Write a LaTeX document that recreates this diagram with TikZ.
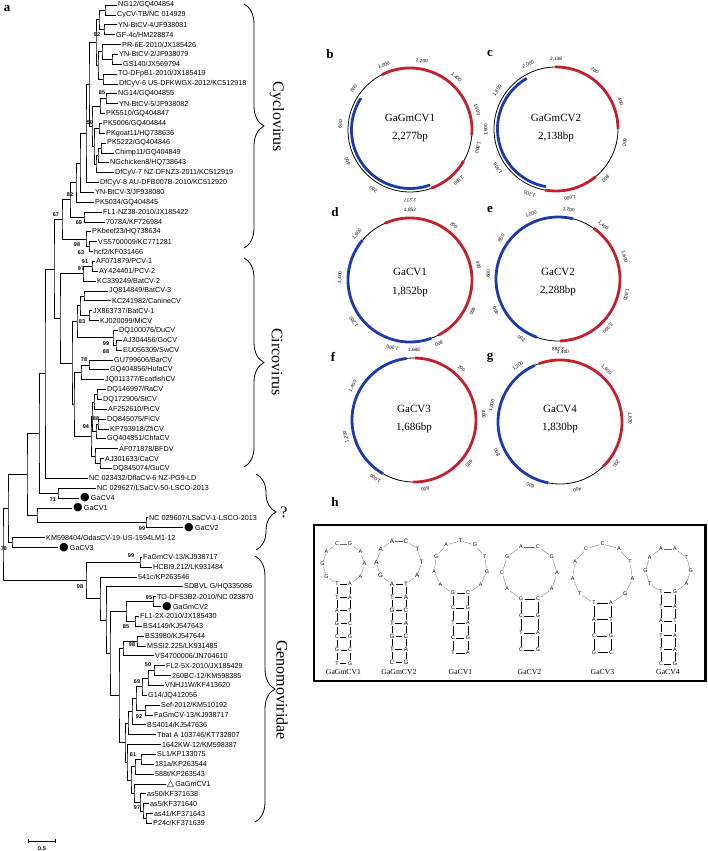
\documentclass[tikz,border=0pt]{standalone}
\usepackage{fontspec}
\setmainfont{Liberation Serif}
\setsansfont{Liberation Sans}
\newfontfamily\dejavu{DejaVu Sans}
\usetikzlibrary{calc, arrows.meta, decorations.pathreplacing}

\definecolor{repred}{RGB}{196,32,44}
\definecolor{capblue}{RGB}{28,58,172}
\pgfkeys{/pgf/number format/.cd, int detect, 1000 sep={,}, assume math mode=true}

\newcommand\markdot{{\dejavu\fontsize{11}{11}\selectfont ●}\,}
\newcommand\marktri{{\dejavu\fontsize{9}{9}\selectfont △}\,}

% tree: clade #1 at x=#2 joining #3 and #4
\newcommand\clade[4]{%
  \coordinate (mid) at ($(#3)!0.5!(#4)$);
  \coordinate (#1) at (#2,0 |- mid);
  \draw[branch] (#3) -| (#1) |- (#4);
}

% genome map: centre #1, length #2, angle of position 0
\newcommand\genome[3]{%
  \draw[backbone] (#1) circle[radius=62];
  \foreach \p in {200,400,...,#2} {
    \pgfmathtruncatemacro\keep{#2-\p>=100}
    \ifnum\keep=1
      \pgfmathsetmacro\ta{#3+\p/#2*360}
      \node[bpmark, rotate=270-\ta] (#1-\p) at ($(#1)+(\ta:70)$) {\pgfmathprintnumber{\p}};
    \fi
  }
  \node[bpmark, rotate=270-#3] (#1-end) at ($(#1)+(#3:70)$) {\pgfmathprintnumber{#2}};
}
\newcommand\garc[5]{%
  \draw[#1] ($(#2)+(#3:#5)$) arc[start angle=#3, end angle=#4, radius=#5];
}

% stem-loop: prefix, x, top row y, pair gap, row step, pairs, loop size, loop, name
\newcommand\stemloop[9]{%
  \pgfmathsetmacro\ringm{#7+2}
  \pgfmathsetmacro\ringr{#4/(2*sin(180/\ringm))}
  \coordinate (#1c) at (#2,{#3-\ringr*cos(180/\ringm)});
  \foreach \lb/\rb [count=\ii] in {#6} {
    \node[nt] (#1l\ii) at ({#2-#4/2},{#3+(\ii-1)*#5}) {\lb};
    \node[nt] (#1r\ii) at ({#2+#4/2},{#3+(\ii-1)*#5}) {\rb};
    \draw[pairline] (#1l\ii) -- (#1r\ii);
    \ifnum\ii>1
      \pgfmathtruncatemacro\jj{\ii-1}
      \draw[stemline] (#1l\jj) -- (#1l\ii) (#1r\jj) -- (#1r\ii);
    \fi
  }
  \foreach \nb [count=\qq] in {#8} {
    \node[nt] (#1o\qq) at ($(#1c)+({90+(2*\qq+1)*180/\ringm}:\ringr)$) {\nb};
  }
  \draw[ringline] (#1l1) -- (#1o1);
  \pgfmathtruncatemacro\lastq{#7-1}
  \foreach \qq [evaluate=\qq as \pp using int(\qq+1)] in {1,...,\lastq} {
    \draw[ringline] (#1o\qq) -- (#1o\pp);
  }
  \draw[ringline] (#1o#7) -- (#1r1);
  \node[slname] (#1name) at (#2,672) {#9};
}

\begin{document}
\begin{tikzpicture}[
    x=1pt, y=-1pt,
    branch/.style={line width=0.7pt},
    leaf/.style={anchor=west, inner sep=1pt, font=\fontsize{7.2}{8}\selectfont\sffamily},
    boot/.style={inner sep=0pt, font=\fontsize{5.5}{6}\selectfont\sffamily\bfseries},
    panel/.style={font=\fontsize{13}{14}\selectfont\bfseries},
    famname/.style={font=\fontsize{16}{18}\selectfont},
    clbrace/.style={decorate, decoration={brace, amplitude=20pt}, line width=0.8pt},
    backbone/.style={line width=0.8pt},
    repcol/.style={repred, line width=2.8pt},
    capcol/.style={capblue, line width=2.8pt},
    bpmark/.style={inner sep=0pt, font=\fontsize{4.8}{5}\selectfont\sffamily},
    gname/.style={font=\fontsize{11}{12}\selectfont},
    nt/.style={inner sep=0.8pt, font=\fontsize{5.4}{6}\selectfont\sffamily},
    pairline/.style={line width=0.3pt, shorten <=0.5pt, shorten >=0.5pt},
    stemline/.style={line width=0.3pt},
    ringline/.style={line width=0.3pt, black!60},
    slname/.style={font=\fontsize{7.7}{8}\selectfont}
  ]
  \useasboundingbox (0,0) rectangle (708,851);

  % panel a: tree
  \node[panel] (pa) at (7,9) {a};
  \foreach \tx/\lab [count=\ii] in {
    117/{NG12/GQ404854}, 116/{CyCV-TB/NC 014929}, 117/{YN-BtCV-4/JF938081},
    115/{GF-4c/HM228874}, 121/{PR-6E-2010/JX185426}, 118/{YN-BtCV-2/JF938079},
    122/{GS140/JX569794}, 117/{TO-DFpB1-2010/JX185419}, 118/{DfCyV-6 US-DFKWGX-2012/KC512918},
    117/{NG14/GQ404855}, 118/{YN-BtCV-5/JF938082}, 105/{PK5510/GQ404847},
    102/{PK5006/GQ404844}, 105/{PKgoat11/HQ738636}, 106/{PK5222/GQ404846},
    114/{Chimp11/GQ404849}, 109/{NGchicken8/HQ738643}, 114/{DfCyV-7 NZ-DFNZ3-2011/KC512919},
    99/{DfCyV-8 AU-DFB007B-2010/KC512920}, 94/{YN-BtCV-3/JF938080}, 94/{PK5034/GQ404845},
    102/{FL1-NZ38-2010/JX185422}, 105/{7078A/KF726984}, 91/{PKbeef23/HQ738634},
    97/{VS5700009/KC771281}, 93/{hcf2/KF031466}, 95/{AF071879/PCV-1},
    98/{AY424401/PCV-2}, 96/{KC339249/BatCV-2}, 108/{JQ814849/BatCV-3},
    111/{KC241982/CanineCV}, 92/{JX863737/BatCV-1}, 99/{KJ020099/MiCV},
    118/{DQ100076/DuCV}, 122/{AJ304456/GoCV}, 122/{EU056309/SwCV},
    113/{GU799606/BarCV}, 109/{GQ404856/HufaCV}, 104/{JQ011377/EcatfishCV},
    106/{DQ146997/RaCV}, 102/{DQ172906/StCV}, 107/{AF252610/PiCV},
    106/{DQ845075/FiCV}, 109/{KP793918/ZfiCV}, 106/{GQ404851/ChfaCV},
    118/{AF071878/BFDV}, 104/{AJ301633/CaCV}, 112/{DQ845074/GuCV},
    88/{NC 023432/DflaCV-6 NZ-PG9-LD}, 96/{NC 029627/LSaCV-50-LSCO-2013}, 79/{\markdot GaCV4},
    72/{\markdot GaCV1}, 148/{NC 029607/LSaCV-1-LSCO-2013}, 183/{\markdot GaCV2},
    45/{KM598404/OdasCV-19-US-1594LM1-12}, 58/{\markdot GaCV3}, 142/{FaGmCV-13/KJ938717},
    152/{HCBI9.212/LK931484}, 137/{541c/KP263546}, 183/{SDBVL G/HQ335086},
    156/{TO-DFS3B2-2010/NC 023870}, 161/{\markdot GaGmCV2}, 139/{FL1-2X-2010/JX185430},
    142/{BS4149/KJ547643}, 144/{BS3980/KJ547644}, 146/{MSSI2.225/LK931485},
    154/{VS4700006/JN704610}, 165/{FL2-5X-2010/JX185429}, 171/{260BC-12/KM598385},
    164/{VNHJ1W/KF413620}, 147/{G14/JQ412056}, 160/{Sef-2012/KM510192},
    153/{FaGmCV-13/KJ938717}, 146/{BS4014/KJ547636}, 156/{Tbat A 103746/KT732807},
    161/{1642KW-12/KM598387}, 156/{SL1/KP133075}, 154/{181a/KP263544},
    154/{588t/KP263543}, 166/{\marktri GaGmCV1}, 146/{as50/KF371638},
    149/{as5/KF371640}, 153/{as41/KF371643}, 152/{P24c/KF371639}}
    \node[leaf] (l\ii) at (\tx,{5+(\ii-1)*9.86}) {\lab};

  % Cyclovirus
  \clade{A1}{105}{l1}{l2}
  \clade{A2}{104}{l3}{l4}
  \clade{A3}{99}{A1}{A2}
  \clade{B1}{112}{l6}{l7}
  \clade{B2}{102}{l5}{B1}
  \clade{B3}{103}{l8}{l9}
  \clade{B4}{98}{B2}{B3}
  \clade{C1}{96}{A3}{B4}
  \clade{D1}{106}{l10}{l11}
  \clade{D2}{100}{D1}{l12}
  \clade{E1}{99}{l13}{l14}
  \clade{E2}{101}{l15}{l16}
  \clade{E3}{98}{E2}{l17}
  \clade{E4}{96}{E3}{l18}
  \clade{E5}{94}{E1}{E4}
  \clade{F1}{92}{D2}{E5}
  \clade{G1}{89}{C1}{F1}
  \clade{G2}{86}{G1}{l19}
  \clade{G3}{80}{G2}{l20}
  \clade{G4}{76}{G3}{l21}
  \clade{H1}{84}{l22}{l23}
  \clade{H2}{70}{G4}{H1}
  \clade{I1}{89}{l25}{l26}
  \clade{I2}{86}{l24}{I1}
  \clade{H3}{62}{H2}{I2}
  % Circovirus
  \clade{J1}{92}{l27}{l28}
  \clade{J2}{83}{J1}{l29}
  \clade{K1}{84}{l30}{l31}
  \clade{K2}{89}{l32}{l33}
  \clade{K3}{80}{K1}{K2}
  \clade{L1}{116}{l35}{l36}
  \clade{L2}{113}{l34}{L1}
  \clade{K4}{77}{K3}{L2}
  \clade{M1}{89}{l37}{l38}
  \clade{M2}{81}{M1}{l39}
  \clade{N1}{97}{l40}{l41}
  \clade{N2}{94}{N1}{l42}
  \clade{N3}{98}{l43}{l44}
  \clade{N4}{96}{N3}{l45}
  \clade{N5}{92}{N2}{N4}
  \clade{N6}{100}{l47}{l48}
  \clade{N7}{95}{l46}{N6}
  \clade{N8}{91}{N5}{N7}
  \clade{M3}{74}{M2}{N8}
  \clade{K5}{72}{K4}{M3}
  \clade{J3}{60}{J2}{K5}
  \clade{O1}{54}{H3}{J3}
  \clade{P1}{45}{O1}{l49}
  \clade{Q1}{58}{l50}{l51}
  \clade{Q2}{39}{P1}{Q1}
  \clade{R1}{146}{l53}{l54}
  \clade{R2}{37}{l52}{R1}
  \clade{Q3}{27}{Q2}{R2}
  \clade{S1}{12}{l55}{l56}
  \clade{T1}{8}{Q3}{S1}
  % Genomoviridae
  \clade{U1}{140}{l57}{l58}
  \clade{Y1}{153}{l61}{l62}
  \clade{Y2}{135}{l63}{l64}
  \clade{Y3}{126}{Y1}{Y2}
  \clade{Z1}{137}{l65}{l66}
  \clade{Z2}{123}{Z1}{l67}
  \clade{AA1}{154}{l68}{l69}
  \clade{AA2}{148}{AA1}{l70}
  \clade{AA3}{142}{AA2}{l71}
  \clade{AB1}{145}{l72}{l73}
  \clade{AC1}{136}{AA3}{AB1}
  \clade{AC2}{132}{AC1}{l74}
  \clade{AC3}{128}{AC2}{l75}
  \clade{AD1}{141}{l77}{l78}
  \clade{AD2}{135}{AD1}{l79}
  \clade{AE1}{146}{l83}{l84}
  \clade{AE2}{143}{l82}{AE1}
  \clade{AE3}{140}{l81}{AE2}
  \clade{AF1}{134}{l80}{AE3}
  \clade{AF2}{131}{AD2}{AF1}
  \clade{AF3}{127}{l76}{AF2}
  \clade{AG1}{125}{AC3}{AF3}
  \clade{AG2}{119}{Z2}{AG1}
  \clade{Y4}{110}{Y3}{AG2}
  \clade{X1}{106}{l60}{Y4}
  \clade{X2}{100}{l59}{X1}
  \clade{X3}{86}{U1}{X2}
  \clade{root}{3}{T1}{X3}

  % bootstrap values
  \foreach \bx/\by/\bv [count=\ii] in {97/35/92, 102/93/85, 90/123/50, 70/195/82,
      56/215/67, 79/223/69, 77/245/98, 81/253/63, 85/262/91, 81/269/97, 82/322/83,
      106/344/99, 106/352/88, 84/360/78, 96/419/88, 86/427/94, 53/500/71,
      142/529/99, 4/549/78, 131/556/99, 80/587/98, 149/598/95, 126/627/85,
      132/645/98, 148/665/50, 137/682/69, 139/717/92, 133/755/61, 137/808/97}
    \node[boot] (bs\ii) at (\bx,\by) {\bv};

  \coordinate (sb1) at (28,841);
  \coordinate (sb2) at (56,841);
  \draw[{Bar[width=4pt]}-{Bar[width=4pt]}, line width=0.6pt] (sb1) -- (sb2);
  \node[boot] (sbtext) at (42,849) {0.5};

  % families
  \draw[clbrace] (244,4) -- (244,248);
  \node[famname, rotate=-90] (cyclo) at (277,117) {Cyclovirus};
  \draw[clbrace] (244,258) -- (244,467);
  \node[famname, rotate=-90] (circo) at (277,362) {Circovirus};
  \draw[clbrace] (256,474) -- (256,550);
  \node[famname] (unk) at (284,512) {?};
  \draw[clbrace] (255,556) -- (255,822);
  \node[famname, rotate=-90] (genomo) at (282,690) {Genomoviridae};

  % panels b-g: genome maps
  \node[panel] (pb) at (330,54) {b};
  \node[panel] (pc) at (490,53) {c};
  \node[panel] (pd) at (335,212) {d};
  \node[panel] (pe) at (490,210) {e};
  \node[panel] (pf) at (333,357) {f};
  \node[panel] (pg) at (490,358) {g};

  \coordinate (b) at (410,130);
  \coordinate (c) at (556,129);
  \coordinate (d) at (410,280);
  \coordinate (e) at (558,279);
  \coordinate (f) at (414,420);
  \coordinate (g) at (560,422);

  \genome{b}{2277}{90}
  \genome{c}{2138}{270}
  \genome{d}{1852}{270}
  \genome{e}{2288}{90}
  \genome{f}{1686}{270}
  \genome{g}{1830}{-3}

  \garc{repcol}{b}{243}{365}{62}
  \garc{repcol}{b}{390}{430}{62}
  \garc{capcol}{b}{70}{213}{58.5}
  \garc{repcol}{c}{269}{360}{62}
  \garc{repcol}{c}{410}{460}{62}
  \garc{capcol}{c}{100}{240}{58.5}
  \garc{repcol}{d}{246}{423}{62}
  \garc{capcol}{d}{70}{220}{62}
  \garc{repcol}{e}{305}{448}{62}
  \garc{capcol}{e}{110}{284}{62}
  \garc{repcol}{f}{271}{451}{62}
  \garc{capcol}{f}{120}{263}{62}
  \garc{repcol}{g}{250}{406}{62}
  \garc{capcol}{g}{101}{246}{62}

  \node[gname] (bname) at ($(b)+(0,-12)$) {GaGmCV1};
  \node[gname] (blen) at ($(b)+(0,7)$) {2,277bp};
  \node[gname] (cname) at ($(c)+(0,-11)$) {GaGmCV2};
  \node[gname] (clen) at ($(c)+(0,8)$) {2,138bp};
  \node[gname] (dname) at ($(d)+(0,-8)$) {GaCV1};
  \node[gname] (dlen) at ($(d)+(0,12)$) {1,852bp};
  \node[gname] (ename) at ($(e)+(0,-7)$) {GaCV2};
  \node[gname] (elen) at ($(e)+(0,12)$) {2,288bp};
  \node[gname] (fname) at ($(f)+(0,-11)$) {GaCV3};
  \node[gname] (flen) at ($(f)+(0,8)$) {1,686bp};
  \node[gname] (gname) at ($(g)+(0,-13)$) {GaCV4};
  \node[gname] (glen) at ($(g)+(0,6)$) {1,830bp};

  % panel h: stem-loops
  \node[panel] (ph) at (335,502) {h};
  \draw[line width=2.6pt] (314,525) rectangle (705.5,681);
  \stemloop{s1}{343.5}{584}{13}{13.2}{T/A,T/A,A/T,G/C,C/G,G/C,T/G}{8}{G,G,A,C,G,A,A,A}{GaGmCV1}
  \begin{scope}[nt/.append style={font=\fontsize{6.3}{7}\selectfont\sffamily}]
  \stemloop{s2}{399}{584}{14}{13}{A/T,T/A,G/C,T/A,G/C,T/A,C/G}{8}{G,A,A,A,C,T,T,A}{GaGmCV2}
  \end{scope}
  \stemloop{s3}{460.5}{593}{15}{15}{G/C,C/G,T/A,C/G,T/A}{9}{A,A,G,A,T,G,T,G,A}{GaCV1}
  \stemloop{s4}{529.5}{599}{17}{17}{G/C,C/G,T/A,C/G}{8}{A,C,G,A,C,G,A,A}{GaCV2}
  \stemloop{s5}{602.5}{603}{17}{16.5}{T/A,A/T,C/G,G/C}{9}{T,A,A,C,C,A,T,A,G}{GaCV3}
  \stemloop{s6}{668}{592}{14}{14.4}{T/G,T/A,A/T,T/A,T/A,C/G}{8}{T,G,A,A,A,T,G,A}{GaCV4}
\end{tikzpicture}
\end{document}
